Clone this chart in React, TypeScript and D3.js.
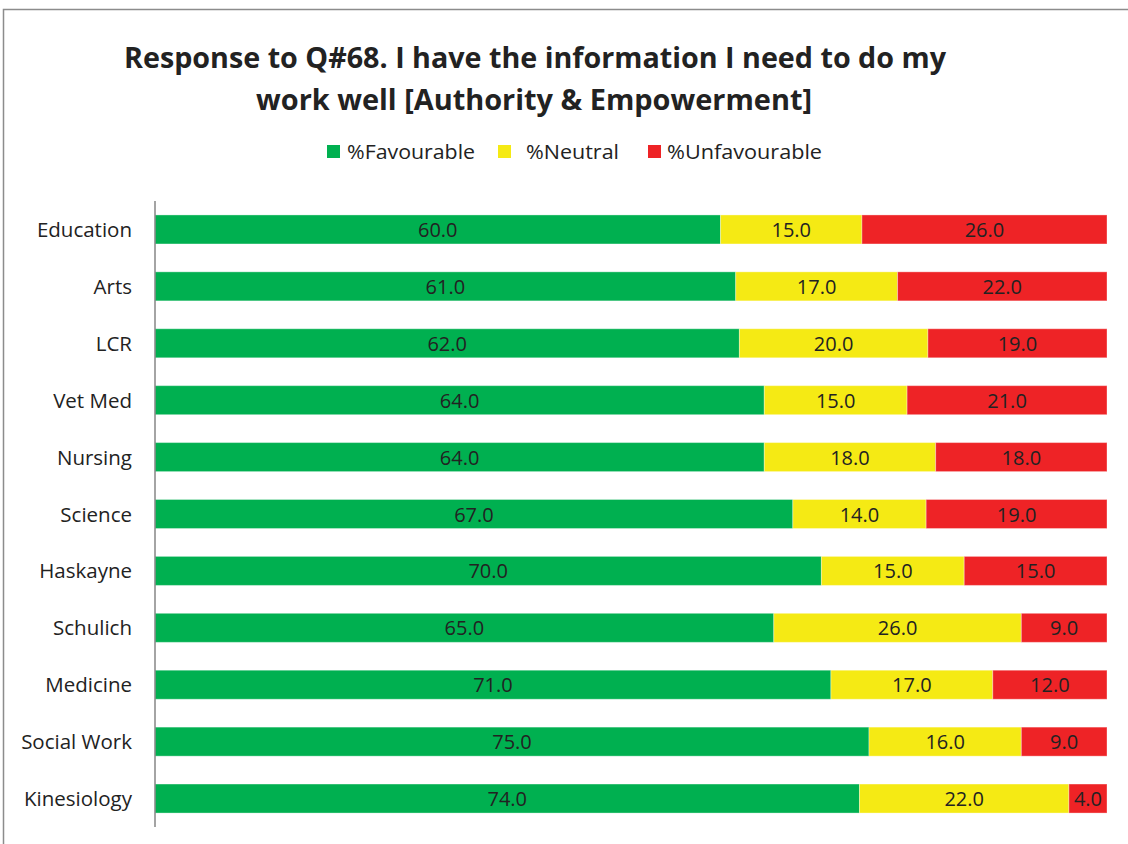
import React from "react";
import * as d3 from "d3";

const categories = ["Education", "Arts", "LCR", "Vet Med", "Nursing", "Science", "Haskayne", "Schulich", "Medicine", "Social Work", "Kinesiology"];
const favourable = [60, 61, 62, 64, 64, 67, 70, 65, 71, 75, 74];
const neutral = [15, 17, 20, 15, 18, 14, 15, 26, 17, 16, 22];
const unfavourable = [26, 22, 19, 21, 18, 19, 15, 9, 12, 9, 4];
const seriesNames = ["%Favourable", "%Neutral", "%Unfavourable"];
const seriesColors = ["#00B050", "#F5EA14", "#EE2326"];
const titleLines = ["Response to Q#68. I have the information I need to do my", "work well [Authority & Empowerment]"];

const W = 1128, H = 844;
const FONT = "'Open Sans', 'Noto Sans', sans-serif";

export default function App() {
  const x = d3.scaleLinear().domain([0, 1]).range([155, 1107]);
  const y = d3.scaleBand<string>().domain(categories).range([201, 827]).paddingInner(0.49).paddingOuter(0.245);
  const rows = categories.map((c, i) => ({ cat: c, vals: [favourable[i], neutral[i], unfavourable[i]] }));
  const stack = d3.stack<any, number>().keys([0, 1, 2]).value((d, k) => d.vals[k] / d3.sum(d.vals));
  const stacked = stack(rows as any);

  const legendItems = [
    { sx: 327, tx: 347, w: 128 },
    { sx: 498, tx: 526, w: 93 },
    { sx: 648, tx: 667, w: 155 },
  ];

  return (
    <svg width={W} height={H} style={{ position: "absolute", left: 0, top: 0, background: "#fff" }} fontFamily={FONT}>
      <rect x={3.5} y={9.5} width={W + 10} height={H + 10} fill="#fff" stroke="#8c8c8c" strokeWidth={1.5} />
      <text x={535} y={68} textAnchor="middle" fontWeight="bold" fontSize={28} fill="#222" textLength={822} lengthAdjust="spacingAndGlyphs">{titleLines[0]}</text>
      <text x={534} y={110} textAnchor="middle" fontWeight="bold" fontSize={28} fill="#222" textLength={556} lengthAdjust="spacingAndGlyphs">{titleLines[1]}</text>
      {seriesNames.map((n, i) => (
        <g key={n}>
          <rect x={legendItems[i].sx} y={145} width={13} height={13} fill={seriesColors[i]} />
          <text x={legendItems[i].tx} y={159} fontSize={20} fill="#222" textLength={legendItems[i].w} lengthAdjust="spacingAndGlyphs">{n}</text>
        </g>
      ))}
      {stacked.map((s, si) => (
        <g key={si}>
          {s.map((d: any, i: number) => {
            const x0 = x(d[0]), x1 = x(d[1]);
            const yy = y(categories[i])!;
            return (
              <g key={i}>
                <rect x={x0} y={yy} width={x1 - x0} height={y.bandwidth()} fill={seriesColors[si]} stroke="rgba(255,255,255,0.35)" strokeWidth={1} />
                <text x={(x0 + x1) / 2} y={yy + y.bandwidth() / 2 + 7.5} textAnchor="middle" fontSize={20} fill="#222">{rows[i].vals[si].toFixed(1)}</text>
              </g>
            );
          })}
        </g>
      ))}
      <line x1={155} x2={155} y1={201} y2={827} stroke="#868686" strokeWidth={1.5} />
      {categories.map((c) => (
        <text key={c} x={132} y={y(c)! + y.bandwidth() / 2 + 7.5} textAnchor="end" fontSize={20.5} fill="#222">{c}</text>
      ))}
    </svg>
  );
}
